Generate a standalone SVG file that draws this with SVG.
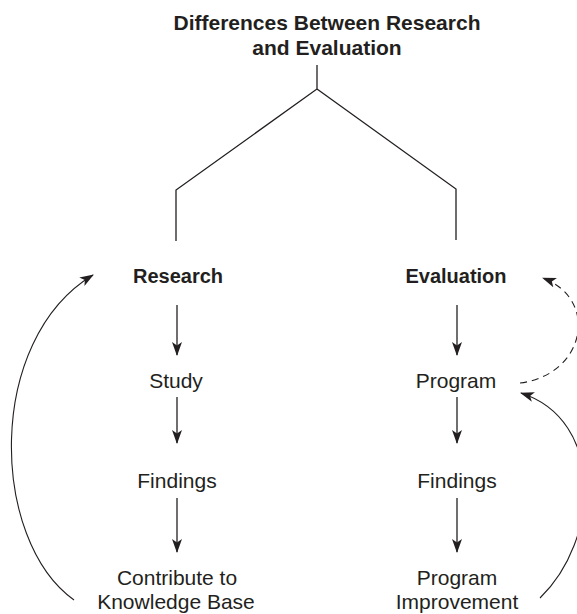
<svg xmlns="http://www.w3.org/2000/svg" width="577" height="614" viewBox="0 0 577 614">
<style>
text{font-family:"Liberation Sans",Arial,sans-serif;fill:#231f20;text-anchor:middle}
.t{font-size:21px;font-weight:bold}
.h{font-size:20px;font-weight:bold}
.n{font-size:21px}
.ln{fill:none;stroke:#231f20;stroke-width:1.3}
.ar{fill:none;stroke:#231f20;stroke-width:1.3;marker-end:url(#ah)}
.cv{fill:none;stroke:#231f20;stroke-width:1.1;marker-end:url(#ah)}
.ds{fill:none;stroke:#231f20;stroke-width:1.1;stroke-dasharray:7 5;marker-end:url(#ah)}
</style>
<defs>
<marker id="ah" markerWidth="14" markerHeight="10" refX="13" refY="5" orient="auto" markerUnits="userSpaceOnUse">
<path d="M0,0 L14,5 L0,10 L3.5,5 z" fill="#231f20"/>
</marker>
</defs>
<rect width="577" height="614" fill="#fff"/>
<g id="title"><text class="t" x="327" y="30">Differences Between Research</text><text class="t" x="327" y="55">and Evaluation</text></g>
<g id="research"><text class="h" x="178" y="283">Research</text></g>
<g id="evaluation"><text class="h" x="456" y="283">Evaluation</text></g>
<g id="study"><text class="n" x="176" y="388">Study</text></g>
<g id="findings-r"><text class="n" x="177" y="488">Findings</text></g>
<g id="contribute"><text class="n" x="177" y="585">Contribute to</text><text class="n" x="176" y="609">Knowledge Base</text></g>
<g id="program"><text class="n" x="456" y="388">Program</text></g>
<g id="findings-e"><text class="n" x="457" y="488">Findings</text></g>
<g id="improvement"><text class="n" x="457" y="585">Program</text><text class="n" x="457" y="609">Improvement</text></g>
<g id="connectors">
<path class="ln" d="M317,65 V89 L176,190 V241 M317,89 L456,189 V240"/>
<path class="ar" d="M177,305 V355"/>
<path class="ar" d="M177,397 V443"/>
<path class="ar" d="M177,498 V552"/>
<path class="ar" d="M457,305 V355"/>
<path class="ar" d="M457,397 V443"/>
<path class="ar" d="M457,498 V552"/>
<path class="cv" d="M74,600 C-10,540 -15,340 93,275"/>
<path class="cv" d="M540,598 C600,540 605,420 521,393"/>
<path class="ds" d="M520,383 C585,375 600,300 543,278"/>
</g>
</svg>
